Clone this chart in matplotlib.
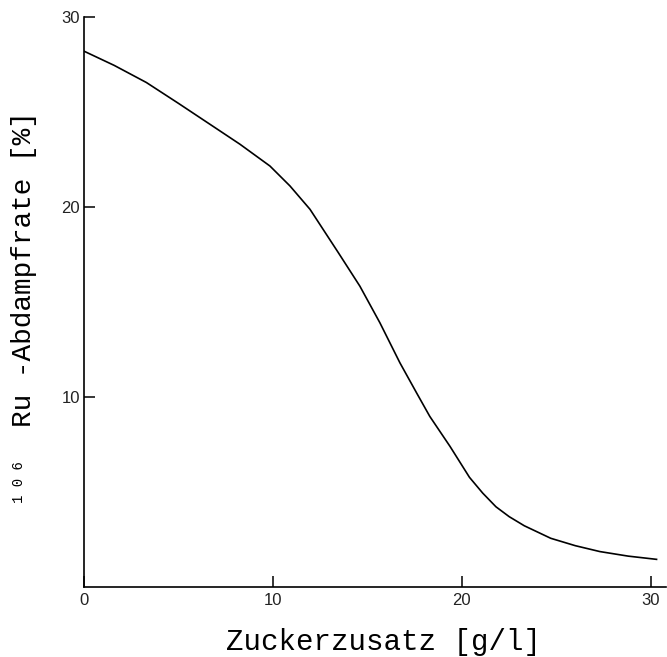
import matplotlib
matplotlib.use("Agg")
import matplotlib.pyplot as plt

# data
zucker = [0, 1.6, 3.3, 5.0, 6.8, 8.25, 9.84, 10.9, 11.96, 13.45, 14.6, 15.66,
          16.72, 17.6, 18.3, 19.37, 20.4, 21.1, 21.8, 22.5, 23.3, 24.7, 26.0,
          27.3, 28.8, 30.3]
abdampf = [28.2, 27.45, 26.55, 25.45, 24.26, 23.3, 22.15, 21.1, 19.87, 17.6,
           15.82, 13.89, 11.78, 10.2, 8.96, 7.38, 5.75, 4.92, 4.2, 3.68, 3.2,
           2.54, 2.15, 1.84, 1.6, 1.43]
xticks = [0, 10, 20, 30]
yticks = [10, 20, 30]

fig = plt.figure(figsize=(6.67, 6.57), dpi=100)
ax = fig.add_axes([84/667, 70.5/657, 582/667, (586.5-17)/657])
ax.plot(zucker, abdampf, color="black", lw=1.2, solid_joinstyle="round")
ax.set_xlim(0, 30.8)
ax.set_ylim(0, 30)
ax.spines["top"].set_visible(False)
ax.spines["right"].set_visible(False)
for s in ("left", "bottom"):
    ax.spines[s].set_linewidth(1.2)
ax.set_xticks(xticks)
ax.set_yticks(yticks)
ax.tick_params(direction="in", length=8, width=1.1, labelsize=12,
               labelcolor="#222222", pad=5)
ax.tick_params(axis="y", pad=3)
for lab in ax.get_xticklabels() + ax.get_yticklabels():
    lab.set_family("Liberation Sans")

fig.text(384/667, 1 - 642/657, "Zuckerzusatz [g/l]", family="Liberation Mono",
         fontsize=21, ha="center", va="center")
fig.text(24/667, 1 - 427/657, "Ru -Abdampfrate [%]", family="Liberation Mono",
         fontsize=20, rotation=90, ha="center", va="bottom")
fig.text(19/667, 1 - 503/657, "1 0 6", family="Liberation Mono",
         fontsize=10, rotation=90, ha="center", va="bottom")

fig.savefig("out.png", dpi=100)
